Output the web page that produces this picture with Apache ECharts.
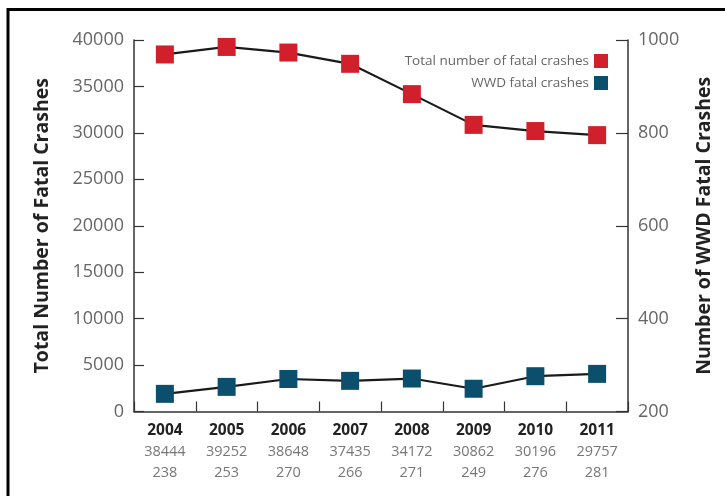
<!DOCTYPE html>
<html>
<head>
<meta charset="utf-8">
<script src="https://cdn.jsdelivr.net/npm/echarts@6/dist/echarts.min.js"></script>
<style>html,body{margin:0;padding:0;background:#fff}#c{width:725px;height:496px}</style>
</head>
<body>
<div id="c"></div>
<script>
const years = ['2004','2005','2006','2007','2008','2009','2010','2011'];
const totalCrashes = [38444, 39252, 38648, 37435, 34172, 30862, 30196, 29757];
const wwdCrashes = [238, 253, 270, 266, 271, 249, 276, 281];
const leftTicks = [0, 5000, 10000, 15000, 20000, 25000, 30000, 35000, 40000];
const rightTicks = [200, 400, 600, 800, 1000];

const FONT = '"Open Sans", "DejaVu Sans", sans-serif';
const chart = echarts.init(document.getElementById('c'), null, {renderer: 'canvas'});
const axisLine = {show: true, lineStyle: {color: '#333', width: 1.5}};
chart.setOption({
  animation: false,
  backgroundColor: '#fff',
  textStyle: {fontFamily: FONT},
  grid: {left: 134, right: 97, top: 40, bottom: 84.5},
  legend: {
    right: 112, top: 49, orient: 'vertical', align: 'right',
    icon: 'rect', itemWidth: 14, itemHeight: 14, itemGap: 8,
    textStyle: {fontFamily: FONT, fontSize: 13.5, color: '#666'},
    data: ['Total number of fatal crashes', 'WWD fatal crashes']
  },
  graphic: [{
    type: 'polyline', silent: true,
    shape: {points: [[8, 496], [8, 9.5], [725, 9.5]]},
    style: {stroke: '#000', lineWidth: 3, fill: null}
  }],
  xAxis: {
    type: 'category', data: years, boundaryGap: true,
    axisLine: axisLine,
    axisTick: {show: true, inside: true, length: 10, lineStyle: {color: '#333', width: 1.2}},
    axisLabel: {
      margin: 9, interval: 0,
      formatter: (v, i) => `{y|${v}}\n{a|${totalCrashes[i]}}\n{a|${wwdCrashes[i]}}`,
      rich: {
        y: {fontFamily: FONT, fontWeight: 'bold', fontSize: 15.5, color: '#222', lineHeight: 21},
        a: {fontFamily: FONT, fontSize: 14.5, color: '#777', lineHeight: 21}
      }
    }
  },
  yAxis: [{
    type: 'value', min: 0, max: 40000, interval: 5000, position: 'left',
    name: 'Total Number of Fatal Crashes', nameLocation: 'middle', nameGap: 82,
    nameTextStyle: {fontFamily: FONT, fontWeight: 'bold', fontSize: 19.5, color: '#222'},
    axisLine: axisLine,
    axisTick: {show: true, inside: true, length: 10, lineStyle: {color: '#333', width: 1.2}},
    axisLabel: {margin: 10, fontFamily: FONT, fontSize: 18, color: '#666', formatter: v => String(v)},
    splitLine: {show: false}
  }, {
    type: 'value', min: 200, max: 1000, interval: 200, position: 'right',
    name: 'Number of WWD Fatal Crashes', nameLocation: 'middle', nameGap: 66,
    nameRotate: 90,
    nameTextStyle: {fontFamily: FONT, fontWeight: 'bold', fontSize: 19.5, color: '#222'},
    axisLine: axisLine,
    axisTick: {show: true, inside: true, length: 12, lineStyle: {color: '#333', width: 1.2}},
    axisLabel: {margin: 10, fontFamily: FONT, fontSize: 18, color: '#666', formatter: v => String(v)},
    splitLine: {show: false}
  }],
  series: [{
    name: 'Total number of fatal crashes', type: 'line', yAxisIndex: 0,
    data: totalCrashes, symbol: 'rect', symbolSize: 18,
    itemStyle: {color: '#d11f2c'},
    lineStyle: {color: '#1a1a1a', width: 2.2}
  }, {
    name: 'WWD fatal crashes', type: 'line', yAxisIndex: 1,
    data: wwdCrashes, symbol: 'rect', symbolSize: 18,
    itemStyle: {color: '#0c4f6c'},
    lineStyle: {color: '#1a1a1a', width: 2.2}
  }]
});
</script>
</body>
</html>
